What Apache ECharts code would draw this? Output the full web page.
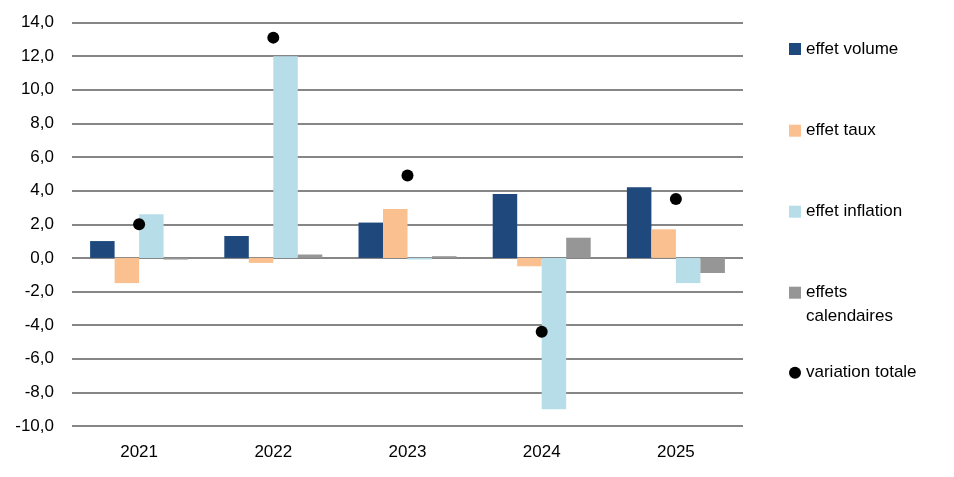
<!DOCTYPE html>
<html>
<head>
<meta charset="utf-8">
<script src="https://cdn.jsdelivr.net/npm/echarts@6/dist/echarts.min.js"></script>
<style>html,body{margin:0;padding:0;background:#fff}#c{width:954px;height:477px}</style>
</head>
<body>
<div id="c"></div>
<script>
var categories = ['2021', '2022', '2023', '2024', '2025'];
var effetVolume = [1.0, 1.3, 2.1, 3.8, 4.2];
var effetTaux = [-1.5, -0.3, 2.9, -0.5, 1.7];
var effetInflation = [2.6, 12.0, -0.1, -9.0, -1.5];
var effetsCalendaires = [-0.1, 0.2, 0.1, 1.2, -0.9];
var variationTotale = [2.0, 13.1, 4.9, -4.4, 3.5];
var seriesNames = ['effet volume', 'effet taux', 'effet inflation', 'effets calendaires', 'variation totale'];

var FONT = '"Liberation Sans", Arial, sans-serif';
var FS = 17;
var colors = ['#1F497D', '#FAC090', '#B7DEE8', '#969696', '#000000'];
var legendCenters = [49, 130.7, 211.7, 292.7, 372.7];

var chart = echarts.init(document.getElementById('c'));

function mkLegend(i) {
  var name = seriesNames[i];
  var isCal = (i === 3);
  var ts = { fontFamily: FONT, fontSize: FS, color: '#000', lineHeight: 24 };
  var top = legendCenters[i] - 12;
  if (isCal) {
    top = legendCenters[i] - 36;
  }
  return {
    orient: 'vertical',
    left: 789,
    top: top,
    padding: 0,
    itemWidth: 12,
    itemHeight: 12,
    icon: i === 4 ? 'circle' : 'rect',
    selectedMode: false,
    data: [name],
    formatter: isCal ? function () { return ' \neffets\ncalendaires'; } : '{name}',
    textStyle: ts
  };
}

var barData = [effetVolume, effetTaux, effetInflation, effetsCalendaires];
var series = barData.map(function (d, i) {
  return {
    name: seriesNames[i],
    type: 'bar',
    data: d,
    barWidth: 24.5,
    barGap: '0%',
    itemStyle: { color: colors[i] },
    emphasis: { disabled: true },
    z: 2
  };
});
series.push({
  name: seriesNames[4],
  type: 'scatter',
  data: variationTotale,
  symbol: 'circle',
  symbolSize: 12,
  itemStyle: { color: '#000', opacity: 1 },
  emphasis: { disabled: true },
  z: 5
});

chart.setOption({
  animation: false,
  color: colors,
  grid: { left: 72, right: 211, top: 22.5, bottom: 51, containLabel: false },
  legend: [0, 1, 2, 3, 4].map(mkLegend),
  xAxis: {
    type: 'category',
    data: categories,
    axisLine: { show: false },
    axisTick: { show: false },
    axisLabel: { fontFamily: FONT, fontSize: FS, color: '#000', margin: 18 }
  },
  yAxis: {
    type: 'value',
    min: -10,
    max: 14,
    interval: 2,
    axisLine: { show: false },
    axisTick: { show: false },
    splitLine: { lineStyle: { color: '#868686', width: 2 } },
    axisLabel: {
      fontFamily: FONT, fontSize: FS, color: '#000', margin: 18,
      formatter: function (v) { return v.toFixed(1).replace('.', ','); }
    }
  },
  series: series
});
</script>
</body>
</html>
